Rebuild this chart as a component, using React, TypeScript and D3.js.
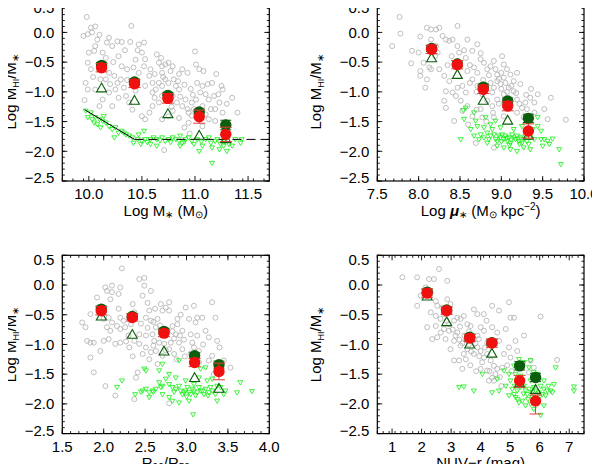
import React from 'react';
import * as d3 from 'd3';

type Pt = [number, number];

// ---- panel 1 : Log M* ----
const p1Gray: Pt[] = [
  [9.98, 0.26], [10.02, 0.08], [10.06, 0.10], [9.99, -0.03], [9.95, -0.06], [10.03, 0.0], [10.10, -0.04], [10.40, 0.11],
  [10.19, -0.09], [10.17, -0.17], [10.22, -0.23], [10.27, -0.15], [10.31, -0.16], [10.39, -0.16], [10.06, -0.23], [10.05, -0.31],
  [10.13, -0.34], [10.16, -0.43], [10.00, -0.34], [9.99, -0.51], [10.02, -0.62], [9.97, -0.85], [9.99, -0.96], [9.96, -1.14],
  [10.06, -0.96], [10.13, -1.13], [10.10, -1.24], [10.19, -0.68], [10.24, -0.73], [10.27, -0.85], [10.30, -0.79], [10.31, -0.57],
  [10.36, -0.62], [10.42, -0.59], [10.47, -0.68], [10.52, -0.57], [10.50, -0.34], [10.46, -0.30], [10.53, -0.45], [10.57, -0.73],
  [10.60, -0.85], [10.53, -0.90], [10.60, -1.01], [10.64, -0.37], [10.68, -0.43], [10.66, -0.51], [10.69, -0.57], [10.72, -0.54],
  [10.75, -0.51], [10.79, -0.57], [10.69, -0.68], [10.72, -0.79], [10.75, -0.85], [10.80, -0.79], [10.82, -0.90], [10.85, -0.96],
  [10.79, -1.07], [10.83, -1.18], [10.88, -1.24], [10.91, -1.13], [10.93, -1.29], [10.94, -1.35], [10.66, -0.85], [10.63, -0.96],
  [10.69, -1.07], [10.66, -1.18], [10.60, -1.24], [10.57, -1.35], [10.53, -1.46], [10.50, -1.41], [10.38, -1.18], [10.35, -1.07],
  [10.33, -0.93], [10.22, -1.24], [10.25, -0.96], [10.19, -1.01], [10.16, -0.79], [10.11, -0.79], [10.52, -0.17], [10.47, -0.20],
  [11.00, -0.32], [11.01, -0.54], [11.04, -0.62], [11.08, -0.65], [11.02, -0.85], [11.07, -0.90], [11.12, -0.87], [11.16, -0.85],
  [11.05, -1.01], [11.10, -1.04], [11.13, -1.13], [11.18, -1.07], [11.01, -1.13], [10.97, -1.18], [10.99, -1.29], [11.07, -1.24],
  [11.15, -1.29], [11.19, -1.29], [11.25, -0.90], [11.26, -0.96], [11.35, -1.10], [11.23, -1.18], [11.26, -1.35], [11.13, -1.46],
  [11.19, -1.49], [10.94, -1.52], [10.85, -1.44], [10.75, -1.41], [10.69, -1.46], [10.79, -1.32], [11.07, -1.58], [10.88, -0.62],
  [10.93, -0.68], [10.69, -0.90], [10.71, -1.98], [10.08, -0.12], [10.44, -0.46], [10.85, -0.70], [11.22, -1.04], [10.41, -1.30],
  [10.58, -0.62], [10.62, -0.70], [10.70, -0.75], [10.77, -0.65], [10.84, -0.82], [10.90, -0.88], [10.96, -0.95], [10.62, -1.10],
  [10.73, -1.15], [10.86, -1.08], [10.98, -1.05], [10.78, -1.25], [10.97, -1.40], [11.10, -1.38], [10.23, -0.50], [10.28, -0.40],
  [10.34, -0.30], [10.20, -0.87], [10.28, -1.10], [10.36, -0.80], [10.44, -0.98], [10.12, -0.55], [10.04, -0.75], [11.30, -1.20],
  [11.40, -1.35], [11.20, -0.70], [10.95, -1.70], [10.90, -1.60],
];
const p1Lim: Pt[] = [
  [9.97, -1.32], [9.99, -1.43], [10.02, -1.35], [10.03, -1.46], [10.06, -1.43], [10.10, -1.46], [10.13, -1.49], [10.08, -1.55],
  [10.11, -1.60], [10.16, -1.52], [10.19, -1.58], [10.22, -1.63], [10.25, -1.60], [10.24, -1.77], [10.28, -1.69], [10.31, -1.66],
  [10.35, -1.72], [10.38, -1.74], [10.41, -1.77], [10.42, -1.86], [10.46, -1.80], [10.50, -1.83], [10.49, -1.88], [10.53, -1.80],
  [10.58, -1.80], [10.61, -1.77], [10.64, -1.80], [10.69, -1.77], [10.72, -1.83], [10.75, -1.80], [10.79, -1.77], [10.82, -1.80],
  [10.85, -1.83], [10.86, -1.74], [10.88, -1.86], [10.91, -1.80], [10.94, -1.77], [10.97, -1.83], [10.99, -1.88], [11.02, -1.80],
  [11.04, -2.00], [11.07, -1.91], [11.10, -1.80], [11.13, -1.77], [11.15, -1.86], [11.16, -1.94], [11.19, -1.83], [11.23, -1.97],
  [11.24, -1.88], [11.27, -1.91], [11.30, -2.00], [11.32, -1.88], [11.35, -1.91], [11.38, -1.80], [11.43, -1.86], [11.44, -1.80],
  [11.16, -2.20], [10.86, -1.91], [10.58, -1.88], [10.64, -1.91], [10.47, -1.72], [10.52, -1.66], [10.14, -1.41], [10.05, -1.52],
  [10.55, -1.85], [10.67, -1.82], [10.77, -1.85], [10.90, -1.84], [11.06, -1.84], [11.21, -1.80], [11.28, -1.84], [10.33, -1.69],
];
const p1Bins = [10.12, 10.43, 10.745, 11.04, 11.29];
const p1Red = [-0.594, -0.863, -1.11, -1.418, -1.715];
const p1RedLo = [0.07, 0.065, 0.08, 0.11, 0.12];
const p1RedHi = [0.07, 0.065, 0.08, 0.11, 0.12];
const p1Dark = [-0.554, -0.835, -1.059, -1.34, -1.558];
const p1DarkErr = [0.05, 0.05, 0.05, 0.05, 0.08];
const p1Tri = [-0.947, -1.154, -1.379, -1.743, -1.80];
const p1Fit: Pt[] = [[9.96, -1.30], [10.43, -1.80]];
const p1Floor: Pt[] = [[10.43, -1.80], [11.70, -1.80]];

// ---- panel 2 : Log mu* ----
const p2Gray: Pt[] = [
  [7.77, 0.26], [7.68, -0.23], [7.78, -0.02], [7.91, -0.52], [7.92, -0.31], [8.00, -0.34], [8.02, -0.07], [8.10, 0.08],
  [8.15, 0.05], [8.21, 0.05], [8.25, 0.08], [8.15, -0.12], [8.21, -0.23], [8.29, -0.06], [8.33, -0.12], [8.37, -0.14],
  [8.47, 0.11], [8.41, -0.12], [8.47, -0.23], [8.49, -0.34], [8.59, -0.12], [8.71, -0.20], [8.65, -0.31], [8.57, -0.43],
  [8.06, -0.51], [8.13, -0.59], [8.02, -0.73], [8.10, -0.79], [8.08, -0.93], [8.25, -0.62], [8.31, -0.73], [8.37, -0.82],
  [8.33, -0.99], [8.41, -1.01], [8.45, -1.07], [8.47, -0.93], [8.53, -0.90], [8.57, -1.01], [8.51, -1.15], [8.59, -0.65],
  [8.67, -0.59], [8.71, -0.68], [8.65, -0.79], [8.71, -0.90], [8.75, -0.45], [8.79, -0.51], [8.83, -0.62], [8.87, -0.57],
  [8.91, -0.48], [9.01, -0.40], [9.03, -0.54], [8.95, -0.71], [8.87, -0.85], [8.91, -0.93], [8.95, -0.82], [8.99, -0.87],
  [9.03, -0.76], [9.07, -0.62], [9.11, -0.71], [9.15, -0.82], [9.19, -0.68], [9.23, -0.87], [9.09, -0.93], [9.15, -0.99],
  [9.03, -1.04], [8.95, -1.13], [8.89, -1.24], [8.83, -1.15], [8.75, -1.29], [8.77, -1.43], [8.65, -1.41], [8.59, -1.24],
  [8.43, -1.49], [8.33, -1.27], [8.31, -1.15], [9.19, -1.13], [9.25, -1.27], [9.29, -1.18], [9.35, -1.10], [9.40, -1.18],
  [9.44, -1.04], [9.52, -1.29], [9.56, -1.46], [9.40, -1.35], [9.27, -1.43], [9.78, -1.47], [8.91, -1.43], [9.03, -1.41],
  [8.69, -1.86], [8.91, -1.94], [9.31, -1.29], [9.19, -1.35], [9.09, -1.18], [8.53, -1.32], [8.23, -0.34], [8.02, -0.65],
  [8.15, -0.62], [8.47, -0.48], [8.81, -0.96], [8.89, -1.01], [8.77, -1.04], [9.00, -0.95], [9.05, -0.85], [8.97, -0.78],
  [8.62, -0.85], [8.70, -1.00], [8.78, -0.80], [8.85, -0.72], [8.93, -0.62], [9.00, -0.68], [9.07, -1.00], [9.12, -0.90],
  [9.18, -1.02], [8.97, -1.20], [8.90, -1.35], [8.82, -1.50], [8.70, -1.30], [8.60, -1.55], [9.10, -1.28], [9.22, -1.20],
  [9.30, -1.05], [8.40, -0.40], [8.35, -0.55], [8.55, -0.30], [8.62, -0.55], [8.20, -0.40], [8.75, -0.35], [9.36, -0.95],
  [9.60, -1.10],
];
const p2Lim: Pt[] = [
  [8.57, -1.27], [8.54, -1.31], [8.67, -1.35], [8.55, -1.46], [8.51, -1.80], [8.69, -1.49], [8.63, -1.63], [8.71, -1.58],
  [8.79, -1.60], [8.81, -1.43], [8.67, -1.74], [8.75, -1.72], [8.73, -1.80], [8.83, -1.69], [8.87, -1.74], [8.89, -1.63],
  [8.91, -1.72], [8.93, -1.80], [8.95, -1.83], [8.97, -1.74], [8.99, -1.77], [9.01, -1.72], [9.03, -1.80], [9.05, -1.74],
  [9.07, -1.83], [9.09, -1.77], [9.11, -1.86], [9.13, -1.72], [9.15, -1.77], [9.17, -1.80], [9.19, -1.74], [9.21, -1.83],
  [9.23, -1.77], [9.25, -1.86], [9.27, -1.80], [9.29, -1.74], [9.31, -1.83], [9.33, -1.88], [9.35, -1.77], [9.38, -1.63],
  [9.44, -1.43], [9.40, -1.80], [9.48, -1.80], [9.50, -1.91], [9.52, -1.80], [9.56, -1.83], [9.58, -1.88], [9.62, -1.79],
  [9.70, -1.97], [9.72, -2.22], [9.11, -1.97], [9.19, -2.00], [9.03, -1.94], [9.27, -1.94], [8.95, -1.91], [8.83, -1.86],
  [8.79, -1.77], [8.99, -1.60], [9.15, -1.63], [9.25, -1.58], [9.44, -1.58], [9.48, -1.66], [9.35, -1.97], [8.87, -1.55],
  [8.93, -1.49], [9.06, -1.78], [9.12, -1.81], [9.20, -1.79], [9.00, -1.84], [9.10, -1.90], [9.22, -1.88], [8.85, -1.80],
];
const p2Bins = [8.157, 8.468, 8.782, 9.077, 9.327];
const p2Red = [-0.285, -0.543, -0.958, -1.239, -1.659];
const p2RedLo = [0.07, 0.07, 0.07, 0.08, 0.12];
const p2RedHi = [0.07, 0.07, 0.07, 0.08, 0.12];
const p2Dark = [-0.27, -0.53, -0.92, -1.155, -1.446];
const p2DarkErr = [0.05, 0.05, 0.05, 0.05, 0.07];
const p2Tri = [-0.44, -0.72, -1.155, -1.49, -1.743];

// ---- panel 3 : R90/R50 ----
const p3Gray: Pt[] = [
  [2.22, 0.28], [1.74, -0.63], [1.78, -0.71], [1.80, -0.94], [1.84, -0.97], [1.88, -0.97], [1.84, -1.22], [1.88, -1.47],
  [2.02, -1.70], [2.14, -1.86], [2.37, -1.92], [1.84, -0.49], [1.92, -0.21], [2.02, -0.04], [2.04, -0.10], [2.10, -0.01],
  [2.08, -0.24], [2.10, -0.12], [2.20, -0.04], [2.18, -0.15], [2.06, -0.55], [2.10, -0.63], [2.16, -0.69], [2.20, -0.74],
  [2.26, -0.71], [2.24, -0.60], [2.33, -0.66], [2.35, -0.32], [2.37, -0.46], [2.43, 0.10], [2.49, 0.12], [2.57, -0.10],
  [2.47, -0.18], [2.49, -0.01], [2.55, -0.43], [2.51, -0.55], [2.57, -0.60], [2.65, -0.57], [2.69, -0.32], [2.71, -0.43],
  [2.63, -0.71], [2.69, -0.80], [2.59, -0.83], [2.51, -0.85], [2.43, -0.83], [2.37, -0.94], [2.43, -0.99], [2.51, -1.05],
  [2.47, -1.16], [2.57, -1.13], [2.63, -1.11], [2.71, -1.19], [2.65, -1.33], [2.41, -1.47], [2.39, -1.56], [2.83, -0.69],
  [2.89, -0.66], [2.95, -0.77], [2.87, -0.83], [2.81, -0.97], [2.91, -0.97], [2.95, -1.08], [2.85, -1.16], [2.79, -0.43],
  [2.75, -0.38], [2.79, -0.29], [2.89, -0.57], [3.09, -0.35], [3.13, -0.55], [3.19, -0.55], [3.03, -0.57], [3.11, -0.63],
  [3.05, -0.83], [3.13, -0.85], [3.09, -1.05], [3.15, -1.11], [3.23, -0.77], [3.31, -0.29], [3.35, -0.55], [3.27, -0.88],
  [3.37, -0.94], [3.31, -1.19], [3.45, -1.27], [3.53, -1.39], [3.27, -1.27], [2.99, -0.38], [2.14, -0.99], [2.20, -0.97],
  [2.06, -0.91], [2.31, -1.05], [2.08, -0.77], [2.00, -0.94], [2.00, -0.57], [2.04, -0.71], [1.96, -1.11], [2.61, -0.94],
  [2.67, -0.97], [2.73, -0.99], [2.79, -1.08], [3.15, -1.30], [3.33, -1.50], [3.07, -0.97], [2.79, -1.99], [2.85, -0.90],
  [2.45, -0.65], [2.53, -0.72], [2.60, -0.62], [2.68, -0.68], [2.75, -0.85], [2.83, -0.78], [2.92, -0.85], [2.97, -0.92],
  [2.60, -1.02], [2.55, -1.25], [2.75, -1.10], [2.88, -1.25], [2.98, -1.20], [3.05, -1.15], [2.30, -0.85], [2.27, -0.95],
  [2.35, -1.20], [2.20, -0.55], [3.20, -1.00], [3.40, -1.05], [2.93, -0.50], [2.53, -0.30], [2.62, -0.40], [2.18, -0.40],
];
const p3Lim: Pt[] = [
  [2.51, -1.44], [2.49, -1.41], [2.22, -1.61], [2.16, -1.72], [2.38, -1.84], [2.47, -1.78], [2.51, -1.75], [2.55, -1.81],
  [2.59, -1.78], [2.63, -1.75], [2.67, -1.64], [2.69, -1.72], [2.71, -1.70], [2.75, -1.58], [2.79, -1.67], [2.83, -1.72],
  [2.87, -1.75], [2.91, -1.70], [2.93, -1.78], [2.95, -1.84], [2.99, -1.78], [3.01, -1.72], [3.03, -1.81], [3.05, -1.84],
  [3.07, -1.75], [3.09, -1.78], [3.11, -1.86], [3.13, -1.81], [3.15, -1.72], [3.19, -1.78], [3.21, -1.84], [3.23, -1.75],
  [3.27, -1.81], [3.29, -1.72], [3.31, -1.78], [3.35, -1.84], [3.37, -1.70], [3.41, -1.72], [3.45, -1.84], [3.47, -1.78],
  [3.65, -1.64], [3.61, -1.81], [3.79, -1.79], [3.08, -2.18], [2.91, -1.27], [2.67, -1.44], [2.79, -1.50], [2.87, -1.56],
  [2.99, -1.61], [3.09, -1.67], [3.15, -1.56], [3.25, -1.61], [3.31, -1.58], [3.17, -1.41], [3.37, -1.95], [3.23, -1.39],
  [3.03, -1.95], [2.91, -1.98], [2.79, -1.89], [2.71, -1.84], [2.55, -1.89], [2.83, -1.95], [2.71, -1.33], [2.60, -1.80],
  [2.85, -1.80], [2.97, -1.81], [3.17, -1.78], [3.26, -1.86], [3.00, -1.88], [2.45, -1.80],
];
const p3Bins = [1.971, 2.345, 2.728, 3.098, 3.392];
const p3Red = [-0.433, -0.546, -0.809, -1.303, -1.454];
const p3RedLo = [0.07, 0.06, 0.06, 0.07, 0.14];
const p3RedHi = [0.07, 0.06, 0.06, 0.07, 0.14];
const p3Dark = [-0.405, -0.53, -0.78, -1.19, -1.34];
const p3DarkErr = [0.05, 0.05, 0.05, 0.05, 0.06];
const p3Tri = [-0.534, -0.843, -1.123, -1.57, -1.75];

// ---- panel 4 : NUV-r ----
const p4Gray: Pt[] = [
  [1.35, 0.13], [1.85, 0.13], [2.25, 0.10], [2.42, 0.10], [2.59, 0.27], [2.87, 0.07], [2.14, -0.04], [1.97, -0.18],
  [1.85, -0.35], [2.31, -0.12], [2.48, -0.27], [2.53, -0.35], [2.70, -0.38], [2.87, -0.24], [2.98, -0.32], [2.31, -0.46],
  [2.48, -0.52], [2.64, -0.57], [2.19, -0.71], [2.48, -0.69], [2.53, -0.88], [2.76, -0.74], [2.93, -0.66], [3.10, -0.60],
  [3.21, -0.55], [3.32, -0.57], [3.43, -0.52], [3.55, -0.66], [3.66, -0.69], [3.77, -0.41], [3.89, -0.49], [4.11, -0.49],
  [4.39, -0.35], [4.62, -0.43], [4.96, -0.29], [5.01, -0.55], [5.13, -0.55], [6.03, -0.53], [4.00, -0.71], [4.11, -0.77],
  [3.89, -0.85], [3.72, -0.94], [3.55, -1.08], [3.43, -1.16], [3.27, -1.27], [3.38, -1.41], [2.98, -1.08], [3.10, -1.27],
  [3.32, -1.02], [3.89, -1.05], [3.77, -1.16], [4.00, -1.11], [4.11, -1.22], [4.22, -1.16], [4.34, -1.27], [4.45, -1.36],
  [4.56, -1.41], [4.39, -1.56], [4.28, -1.61], [4.45, -1.61], [4.73, -1.39], [4.79, -1.16], [4.96, -1.05], [5.01, -1.22],
  [5.24, -1.11], [5.47, -0.85], [5.69, -1.27], [5.80, -1.39], [5.64, -1.47], [6.59, -1.26], [5.18, -0.94], [4.62, -0.94],
  [4.85, -0.74], [3.94, -0.91], [4.22, -0.97], [4.39, -0.71], [4.56, -0.80], [3.10, -0.94], [3.21, -0.80], [4.22, -1.44],
  [4.00, -1.41], [2.76, -0.49], [2.36, -0.91], [2.81, -0.91], [2.93, -0.77], [3.45, -0.85], [3.60, -0.78], [3.30, -0.70],
  [3.15, -0.85], [3.28, -0.92], [3.38, -0.98], [3.50, -0.92], [3.60, -1.00], [3.68, -1.12], [3.82, -0.98], [3.95, -1.20],
  [4.05, -1.30], [4.15, -1.05], [4.30, -1.45], [4.50, -1.50], [4.65, -1.55], [3.50, -1.25], [3.65, -1.35], [2.65, -0.80],
  [2.85, -0.60], [3.05, -0.75], [4.70, -1.70], [4.90, -1.35], [5.05, -1.45], [3.85, -1.45], [4.20, -0.60],
];
const p4Lim: Pt[] = [
  [3.27, -1.72], [3.43, -1.71], [3.77, -1.78], [4.06, -1.50], [4.39, -1.81], [4.62, -1.78], [4.79, -1.44], [4.85, -1.70],
  [5.01, -1.61], [5.07, -1.75], [5.13, -1.84], [5.18, -1.89], [5.24, -1.78], [5.30, -1.25], [5.35, -1.72], [5.41, -1.95],
  [5.47, -1.70], [5.52, -1.78], [5.58, -1.84], [5.64, -1.75], [5.69, -1.61], [5.75, -1.89], [5.80, -1.72], [5.86, -1.78],
  [5.92, -1.95], [5.97, -1.81], [6.03, -1.70], [6.09, -1.84], [6.14, -1.75], [6.20, -1.86], [6.26, -1.78], [6.37, -1.78],
  [6.43, -1.81], [6.48, -1.67], [6.54, -1.39], [5.47, -1.30], [5.64, -1.39], [5.80, -1.47], [5.18, -1.50], [4.96, -1.86],
  [5.30, -1.98], [5.52, -2.03], [5.69, -2.00], [6.03, -2.19], [7.16, -1.71], [7.16, -1.78], [6.14, -1.61], [5.35, -1.53],
  [5.69, -1.27], [5.13, -1.36], [5.92, -1.50], [5.80, -2.09], [6.14, -2.03], [4.96, -1.50], [4.56, -1.58], [5.25, -1.92],
  [5.45, -1.83], [5.60, -1.92], [5.75, -1.80], [6.00, -1.88], [5.15, -1.70], [5.40, -1.62], [6.30, -1.70],
];
const p4Bins = [2.19, 2.85, 3.63, 4.38, 5.32, 5.86];
const p4Red = [-0.136, -0.433, -0.893, -0.977, -1.61, -1.95];
const p4RedLo = [0.07, 0.06, 0.06, 0.07, 0.11, 0.22];
const p4RedHi = [0.07, 0.06, 0.06, 0.07, 0.09, 0.10];
const p4Dark = [-0.12, -0.42, -0.88, -0.97, -1.36, -1.555];
const p4DarkErr = [0.05, 0.05, 0.05, 0.05, 0.07, 0.07];
const p4Tri = [-0.198, -0.63, -1.005, -1.16, -1.66, -1.77];

// ---- axes ----
const yTicks = [0.5, 0.0, -0.5, -1.0, -1.5, -2.0, -2.5];
const xTicks1 = [10.0, 10.5, 11.0, 11.5];
const xTicks2 = [7.5, 8.0, 8.5, 9.0, 9.5, 10.0];
const xTicks3 = [1.5, 2.0, 2.5, 3.0, 3.5, 4.0];
const xTicks4 = [1, 2, 3, 4, 5, 6, 7];

const FONT = "'Liberation Sans', Arial, Helvetica, sans-serif";
const GRAY = '#b4b4b4';
const LIME = '#22f022';
const DARK = '#0b5e0b';
const RED = '#f01010';
const REDBAR = '#e23a3a';

interface PanelProps {
  frame: { x0: number; x1: number; y0: number; y1: number };
  xDomain: [number, number];
  xTicks: number[];
  xMinor: number;
  xFmt: (v: number) => string;
  titleOffset: number;
  xTitle: React.ReactNode;
  gray: Pt[];
  lim: Pt[];
  bins: number[];
  red: number[];
  redLo: number[];
  redHi: number[];
  dark: number[];
  darkErr: number[];
  tri: number[];
  lines?: { pts: Pt[]; dash?: string }[];
}

const fmt1 = (v: number) => d3.format('.1f')(v);

const Panel: React.FC<PanelProps> = (p) => {
  const { x0, x1, y0, y1 } = p.frame;
  const x = d3.scaleLinear().domain(p.xDomain).range([x0, x1]);
  const y = d3.scaleLinear().domain([-2.5, 0.5]).range([y1, y0]);
  const xMinorTicks = d3.range(p.xDomain[0], p.xDomain[1] + 1e-6, p.xMinor).map(v => +v.toFixed(3));
  const yMinorTicks = d3.range(-2.5, 0.5 + 1e-6, 0.1).map(v => +v.toFixed(3));
  const line = d3.line<Pt>().x(d => x(d[0])).y(d => y(d[1]));
  const tri = 'M0,-5.6L5,3.2L-5,3.2Z';
  const down = 'M-2.5,-1.8L2.5,-1.8L0,2.5Z';
  const cy = (y0 + y1) / 2;
  // IDL nudges the end labels inside the frame
  const yLab = (v: number) => Math.min(Math.max(y(v), y0 + 4.5), y1 - 3);
  return (
    <g>
      {p.gray.map((d, i) => (
        <circle key={'g' + i} cx={x(d[0])} cy={y(d[1])} r={2.5} fill="none" stroke={GRAY} strokeWidth={0.85} />
      ))}
      {p.lim.map((d, i) => (
        <path key={'l' + i} d={down} transform={`translate(${x(d[0])},${y(d[1])})`} fill="none" stroke={LIME} strokeWidth={0.85} />
      ))}
      {(p.lines || []).map((l, i) => (
        <path key={'ln' + i} d={line(l.pts) || ''} fill="none" stroke="#000" strokeWidth={1} strokeDasharray={l.dash} />
      ))}
      {p.bins.map((b, i) => (
        <path key={'t' + i} d={tri} transform={`translate(${x(b)},${y(p.tri[i])})`} fill="none" stroke={DARK} strokeWidth={1.1} />
      ))}
      {p.bins.map((b, i) => {
        const cx = x(b);
        const top = y(p.dark[i] + p.darkErr[i]);
        const bot = y(p.dark[i] - p.darkErr[i]);
        return (
          <g key={'de' + i} stroke={DARK} strokeWidth={1}>
            <line x1={cx} x2={cx} y1={top} y2={bot} />
            <line x1={cx - 5.5} x2={cx + 5.5} y1={top} y2={top} />
            <line x1={cx - 5.5} x2={cx + 5.5} y1={bot} y2={bot} />
          </g>
        );
      })}
      {p.bins.map((b, i) => (
        <circle key={'dc' + i} cx={x(b)} cy={y(p.dark[i])} r={5.7} fill={DARK} />
      ))}
      {p.bins.map((b, i) => {
        const cx = x(b);
        const top = y(p.red[i] + p.redHi[i]);
        const bot = y(p.red[i] - p.redLo[i]);
        return (
          <g key={'re' + i} stroke={REDBAR} strokeWidth={1}>
            <line x1={cx} x2={cx} y1={top} y2={bot} />
            <line x1={cx - 6} x2={cx + 6} y1={top} y2={top} />
            <line x1={cx - 6} x2={cx + 6} y1={bot} y2={bot} />
          </g>
        );
      })}
      {p.bins.map((b, i) => (
        <circle key={'rc' + i} cx={x(b)} cy={y(p.red[i])} r={5.7} fill={RED} />
      ))}

      {/* frame + inward ticks on all four sides */}
      <rect x={x0} y={y0} width={x1 - x0} height={y1 - y0} fill="none" stroke="#000" strokeWidth={1.2} />
      <g stroke="#000" strokeWidth={0.9}>
        {xMinorTicks.map((v, i) => (
          <g key={'xm' + i}>
            <line x1={x(v)} x2={x(v)} y1={y1} y2={y1 - 2.5} />
            <line x1={x(v)} x2={x(v)} y1={y0} y2={y0 + 2.5} />
          </g>
        ))}
        {p.xTicks.map((v, i) => (
          <g key={'xM' + i}>
            <line x1={x(v)} x2={x(v)} y1={y1} y2={y1 - 5} />
            <line x1={x(v)} x2={x(v)} y1={y0} y2={y0 + 5} />
          </g>
        ))}
        {yMinorTicks.map((v, i) => (
          <g key={'ym' + i}>
            <line x1={x0} x2={x0 + 2.5} y1={y(v)} y2={y(v)} />
            <line x1={x1} x2={x1 - 2.5} y1={y(v)} y2={y(v)} />
          </g>
        ))}
        {yTicks.map((v, i) => (
          <g key={'yM' + i}>
            <line x1={x0} x2={x0 + 5} y1={y(v)} y2={y(v)} />
            <line x1={x1} x2={x1 - 5} y1={y(v)} y2={y(v)} />
          </g>
        ))}
      </g>
      <g fontFamily={FONT} fontSize={15} fill="#000">
        {p.xTicks.map((v, i) => (
          <text key={'xl' + i} x={x(v)} y={y1 + 18} textAnchor="middle">{p.xFmt(v)}</text>
        ))}
        {yTicks.map((v, i) => (
          <text key={'yl' + i} x={x0 - 8} y={yLab(v) + 5.3} textAnchor="end">{fmt1(v)}</text>
        ))}
      </g>
      <text transform={`translate(${x0 - p.titleOffset},${cy}) rotate(-90)`} textAnchor="middle"
        fontFamily={FONT} fontSize={15} fill="#000">
        Log M<tspan fontSize={9} dy={3}>HI</tspan><tspan dy={-3}>/M</tspan><tspan fontSize={10} dy={3}>∗</tspan>
      </text>
      <text x={(x0 + x1) / 2} y={y1 + 34.5} textAnchor="middle" fontFamily={FONT} fontSize={15} fill="#000">
        {p.xTitle}
      </text>
    </g>
  );
};

export default function App() {
  return (
    <svg width={600} height={472} viewBox="0 0 600 472" style={{ display: 'block', margin: '-8px', background: '#fff' }}>
      <rect width={600} height={472} fill="#fff" />
      <Panel
        frame={{ x0: 62.3, x1: 269.3, y0: 2.7, y1: 181 }} xDomain={[9.75, 11.7]} xTicks={xTicks1} xMinor={0.1} xFmt={fmt1}
        titleOffset={46}
        xTitle={<>Log M<tspan fontSize={10} dy={2.5}>∗</tspan><tspan dy={-2.5}> (M</tspan><tspan fontSize={10} dy={2.5}>⊙</tspan><tspan dy={-2.5}>)</tspan></>}
        gray={p1Gray} lim={p1Lim} bins={p1Bins} red={p1Red} redLo={p1RedLo} redHi={p1RedHi}
        dark={p1Dark} darkErr={p1DarkErr} tri={p1Tri}
        lines={[{ pts: p1Fit }, { pts: p1Floor, dash: '9,5' }]}
      />
      <Panel
        frame={{ x0: 377.3, x1: 584, y0: 2.7, y1: 181 }} xDomain={[7.5, 10.0]} xTicks={xTicks2} xMinor={0.1} xFmt={fmt1}
        titleOffset={56}
        xTitle={<>Log <tspan fontWeight="bold" fontStyle="italic">μ</tspan><tspan fontSize={10} dy={2.5}>∗</tspan><tspan dy={-2.5}> (M</tspan><tspan fontSize={10} dy={2.5}>⊙</tspan><tspan dy={-2.5}> kpc</tspan><tspan fontSize={10} dy={-6}>−2</tspan><tspan dy={6}>)</tspan></>}
        gray={p2Gray} lim={p2Lim} bins={p2Bins} red={p2Red} redLo={p2RedLo} redHi={p2RedHi}
        dark={p2Dark} darkErr={p2DarkErr} tri={p2Tri}
      />
      <Panel
        frame={{ x0: 62.3, x1: 269.3, y0: 255.3, y1: 433.6 }} xDomain={[1.5, 4.0]} xTicks={xTicks3} xMinor={0.1} xFmt={fmt1}
        titleOffset={46}
        xTitle={<>R<tspan fontSize={10} dy={2.5}>90</tspan><tspan dy={-2.5}>/R</tspan><tspan fontSize={10} dy={2.5}>50</tspan></>}
        gray={p3Gray} lim={p3Lim} bins={p3Bins} red={p3Red} redLo={p3RedLo} redHi={p3RedHi}
        dark={p3Dark} darkErr={p3DarkErr} tri={p3Tri}
      />
      <Panel
        frame={{ x0: 377.3, x1: 584, y0: 255.3, y1: 433.6 }} xDomain={[0.5, 7.5]} xTicks={xTicks4} xMinor={0.2} xFmt={v => String(v)}
        titleOffset={56}
        xTitle={<>NUV−r (mag)</>}
        gray={p4Gray} lim={p4Lim} bins={p4Bins} red={p4Red} redLo={p4RedLo} redHi={p4RedHi}
        dark={p4Dark} darkErr={p4DarkErr} tri={p4Tri}
      />
    </svg>
  );
}
